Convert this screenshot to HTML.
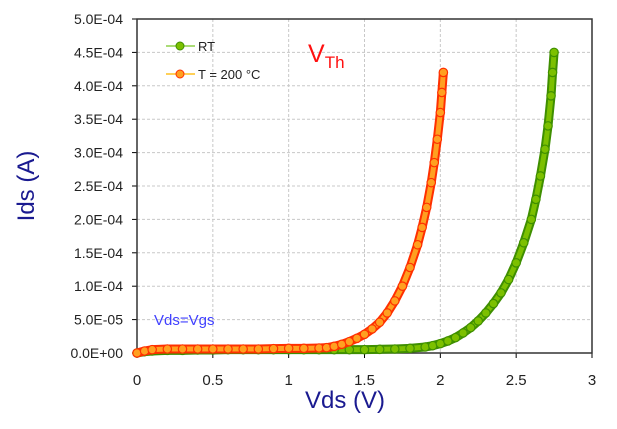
<!DOCTYPE html>
<html><head><meta charset="utf-8"><style>
body{margin:0;background:#fff;width:617px;height:424px;overflow:hidden}
svg{font-family:"Liberation Sans",sans-serif}
</style></head><body>
<svg id="chart" width="617" height="424" xmlns="http://www.w3.org/2000/svg"></svg>
<script>
const xTicks=[0,0.5,1,1.5,2,2.5,3];
const xTickLabels=["0","0.5","1","1.5","2","2.5","3"];
const yTicks=[0,0.5e-4,1e-4,1.5e-4,2e-4,2.5e-4,3e-4,3.5e-4,4e-4,4.5e-4,5e-4];
const yTickLabels=["0.0E+00","5.0E-05","1.0E-04","1.5E-04","2.0E-04","2.5E-04","3.0E-04","3.5E-04","4.0E-04","4.5E-04","5.0E-04"];
const rtX=[0,0.05,0.1,0.2,0.3,0.4,0.5,0.6,0.7,0.8,0.9,1.0,1.1,1.2,1.3,1.4,1.5,1.6,1.7,1.8,1.9,1.95,2.0,2.05,2.1,2.15,2.2,2.25,2.3,2.35,2.4,2.45,2.5,2.55,2.6,2.63,2.66,2.69,2.71,2.73,2.74,2.75];
const rtY=[0,2e-6,3e-6,4e-6,4e-6,4.5e-6,4.5e-6,5e-6,5e-6,5e-6,5e-6,5e-6,5e-6,5e-6,5e-6,5e-6,5e-6,5.5e-6,6e-6,7e-6,9e-6,1.1e-5,1.4e-5,1.8e-5,2.3e-5,3e-5,3.8e-5,4.8e-5,6e-5,7.4e-5,9e-5,1.1e-4,1.35e-4,1.65e-4,2.0e-4,2.3e-4,2.65e-4,3.05e-4,3.4e-4,3.85e-4,4.2e-4,4.5e-4];
const htX=[0,0.05,0.1,0.2,0.3,0.4,0.5,0.6,0.7,0.8,0.9,1.0,1.1,1.2,1.25,1.3,1.35,1.4,1.45,1.5,1.55,1.6,1.65,1.7,1.75,1.8,1.85,1.88,1.91,1.94,1.96,1.98,2.0,2.01,2.02];
const htY=[0,3e-6,5e-6,6e-6,6e-6,6e-6,6e-6,6e-6,6e-6,6e-6,6.5e-6,7e-6,7e-6,7.5e-6,8e-6,1e-5,1.3e-5,1.7e-5,2.2e-5,2.8e-5,3.6e-5,4.6e-5,6e-5,7.8e-5,1.0e-4,1.28e-4,1.62e-4,1.88e-4,2.18e-4,2.55e-4,2.85e-4,3.2e-4,3.6e-4,3.9e-4,4.2e-4];
const NS="http://www.w3.org/2000/svg",svg=document.getElementById('chart');
const X0=137,X1=592,Y0=353,Y1=19;
const sx=v=>X0+(v-xTicks[0])/(xTicks[xTicks.length-1]-xTicks[0])*(X1-X0);
const sy=v=>Y0-(v-yTicks[0])/(yTicks[yTicks.length-1]-yTicks[0])*(Y0-Y1);
function mk(t,a,p){const e=document.createElementNS(NS,t);for(const k in a)e.setAttribute(k,a[k]);(p||svg).appendChild(e);return e;}
const grid=mk('g',{});


xTicks.forEach((v,i)=>{
 if(i>0&&i<xTicks.length-1)mk('line',{x1:sx(v),x2:sx(v),y1:Y1,y2:Y0,stroke:'#c8c8c8','stroke-dasharray':'3,2'},grid);
 mk('line',{x1:sx(v),x2:sx(v),y1:Y0,y2:Y0+5,stroke:'#000'});
 const t=mk('text',{x:sx(v),y:385,'text-anchor':'middle','font-size':15,fill:'#222'});t.textContent=xTickLabels[i];
 
 
});
yTicks.forEach((v,i)=>{
 if(i>0)mk('line',{x1:X0,x2:X1,y1:sy(v),y2:sy(v),stroke:'#c8c8c8','stroke-dasharray':'3,2'},grid);
 mk('line',{x1:X0-5,x2:X0,y1:sy(v),y2:sy(v),stroke:'#000'});
 const t=mk('text',{x:123,y:sy(v)+5,'text-anchor':'end','font-size':14,fill:'#222'});t.textContent=yTickLabels[i];
 
 
});
mk('rect',{x:X0,y:Y1,width:X1-X0,height:Y0-Y1,fill:'none',stroke:'#333','stroke-width':1.5});
function series(xs,ys,fill,stroke,name){
 const g=mk('g',{});
 
 
 mk('polyline',{points:xs.map((x,i)=>sx(x)+','+sy(ys[i])).join(' '),fill:'none',stroke:stroke,'stroke-width':9,'stroke-linejoin':'round'},g);
 mk('polyline',{points:xs.map((x,i)=>sx(x)+','+sy(ys[i])).join(' '),fill:'none',stroke:fill,'stroke-width':5,'stroke-linejoin':'round'},g);
 xs.forEach((x,i)=>{const c=mk('circle',{cx:sx(x),cy:sy(ys[i]),r:4.2,fill:fill,stroke:stroke,'stroke-width':1.2},g);
  
  });
}
series(rtX,rtY,'#7cc000','#3f8f00','series-rt');
series(htX,htY,'#ffa020','#ff3000','series-200c');
</script>
<svg style="position:absolute;left:0;top:0" width="617" height="424">
<g font-family="Liberation Sans, sans-serif" font-size="13" fill="#222">
<line x1="166" y1="46" x2="195" y2="46" stroke="#8fd04a" stroke-width="1.5"/><circle cx="180" cy="46" r="4" fill="#7cc000" stroke="#3f8f00"/>
<text x="198" y="51">RT</text>
<line x1="166" y1="74" x2="195" y2="74" stroke="#ffc020" stroke-width="1.5"/><circle cx="180" cy="74" r="4" fill="#ffa020" stroke="#ff3000"/>
<text x="198" y="79">T = 200 °C</text>
</g>
<text x="308" y="62" font-family="Liberation Sans, sans-serif" font-size="25" fill="#ff1010">V<tspan font-size="17" dy="6">Th</tspan></text>
<text x="154" y="325" font-family="Liberation Sans, sans-serif" font-size="15" fill="#4040ff">Vds=Vgs</text>
<text x="345" y="408" text-anchor="middle" font-family="Liberation Sans, sans-serif" font-size="24" fill="#1a1a90">Vds (V)</text>
<text transform="translate(34,186) rotate(-90)" text-anchor="middle" font-family="Liberation Sans, sans-serif" font-size="24" fill="#1a1a90">Ids (A)</text>
</svg>
</body></html>
